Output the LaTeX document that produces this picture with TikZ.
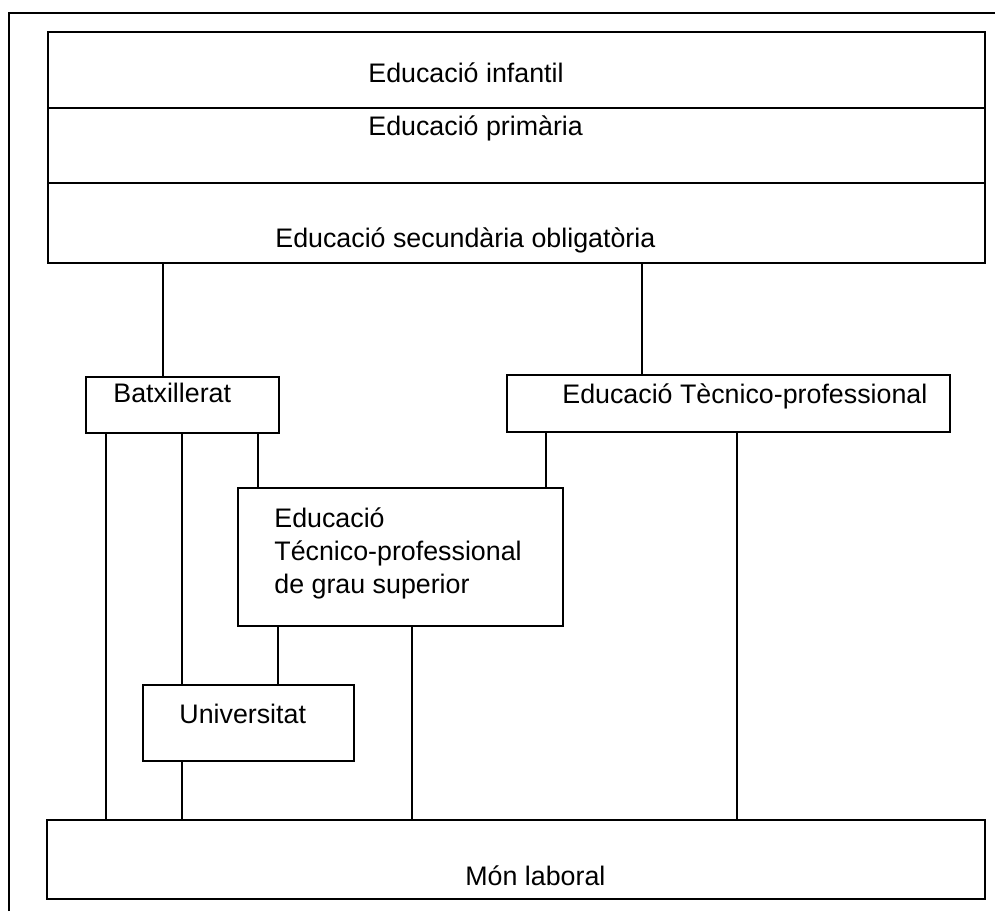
\documentclass[tikz,border=0pt]{standalone}
\usepackage{fontspec}
\setmainfont{Liberation Sans}
\usepackage{tikz}
\tikzset{box/.style={draw, rectangle, anchor=north west, inner sep=0pt, outer sep=0pt, line width=1.4pt},
  lbl/.style={anchor=base west, inner sep=0pt, font=\fontsize{13.4}{16.6}\selectfont},
  link/.style={line width=1.4pt}}

\begin{document}
\begin{tikzpicture}[x=0.5pt, y=-0.5pt]
  \useasboundingbox (0,0) rectangle (995,911);
  \draw [line width=1.4pt] (9,911) -- (9,13) -- (995,13);

  \node [box, minimum width=468.5pt, minimum height=38pt] (inf) at (48,32) {};
  \node [box, minimum width=468.5pt, minimum height=37.5pt] (prim) at (48,108) {};
  \node [box, minimum width=468.5pt, minimum height=40pt] (sec) at (48,183) {};
  \node [box, minimum width=96.5pt, minimum height=28pt] (batx) at (86,377) {};
  \node [box, minimum width=221.5pt, minimum height=28.5pt] (etp) at (507,375) {};
  \node [box, minimum width=162.5pt, minimum height=69pt] (sup) at (238,488) {};
  \node [box, minimum width=105.5pt, minimum height=38pt] (univ) at (143,685) {};
  \node [box, minimum width=469pt, minimum height=39.5pt] (mon) at (47,820) {};

  \node [lbl] (infl) at (368,82) {Educació infantil};
  \node [lbl] (priml) at (368,135) {Educació primària};
  \node [lbl] (secl) at (275,247) {Educació secundària obligatòria};
  \node [lbl] (batxl) at (113,402) {Batxillerat};
  \node [lbl] (etpl) at (562,403) {Educació Tècnico-professional};
  \node [lbl, align=left, anchor=north west] (supl) at (274,507) {Educació\\Técnico-professional\\de grau superior};
  \node [lbl] (univl) at (179,723) {Universitat};
  \node [lbl] (monl) at (465,885) {Món laboral};

  \draw [link] (sec.south -| 163,0) -- (batx.north -| 163,0);
  \draw [link] (sec.south -| 642,0) -- (etp.north -| 642,0);
  \draw [link] (batx.south -| 106,0) -- (mon.north -| 106,0);
  \draw [link] (batx.south -| 182,0) -- (univ.north -| 182,0);
  \draw [link] (batx.south -| 258,0) -- (sup.north -| 258,0);
  \draw [link] (etp.south -| 546,0) -- (sup.north -| 546,0);
  \draw [link] (etp.south -| 737,0) -- (mon.north -| 737,0);
  \draw [link] (sup.south -| 278,0) -- (univ.north -| 278,0);
  \draw [link] (sup.south -| 412,0) -- (mon.north -| 412,0);
  \draw [link] (univ.south -| 182,0) -- (mon.north -| 182,0);
\end{tikzpicture}
\end{document}
